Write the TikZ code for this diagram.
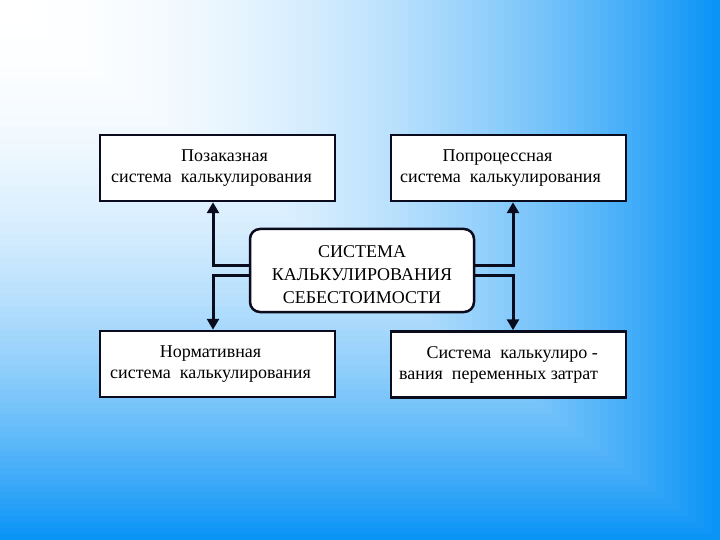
\documentclass[tikz,border=0pt]{standalone}
\usepackage{fontspec}
\setmainfont{Liberation Serif}
\usetikzlibrary{arrows.meta,calc}
\definecolor{edgeblue}{RGB}{10,148,246}
\definecolor{boxline}{RGB}{10,12,30}
\tikzset{
  box/.style={draw=boxline, line width=2.5pt, fill=white, minimum width=235pt, minimum height=66pt, inner sep=0pt, align=center, font=\fontsize{18}{21}\selectfont},
  centerbox/.style={draw=boxline, line width=2.5pt, fill=white, rounded corners=10pt, minimum width=224pt, minimum height=83pt, inner sep=0pt, align=center, font=\fontsize{18}{23}\selectfont},
  conn/.style={draw=boxline, line width=3pt, -{Triangle[width=12pt,length=11pt]}}
}
\begin{document}
\begin{tikzpicture}[x=1pt,y=-1pt]
\useasboundingbox (0,0) rectangle (720,540);
\foreach \i in {90,89,...,1} {
  \pgfmathsetmacro\t{\i/90}
  \pgfmathsetmacro\p{100*\t^2.1}
  \fill[edgeblue!\p!white] (0,0) rectangle ({720*\t},{540*\t});
}
\node[box] (tl) at (217.5,168) {\hspace*{14pt}Позаказная\\система\ \ калькулирования\hspace*{12pt}};
\node[box] (tr) at (508.5,168) {Попроцессная\hspace*{22pt}\\система\ \ калькулирования\hspace*{16pt}};
\node[box] (bl) at (217.5,364) {Нормативная\hspace*{14pt}\\система\ \ калькулирования\hspace*{14pt}};
\node[box, align=right] (br) at (508.5,364.5) {Система\ \ калькулиро -\hspace*{20pt}\\вания\ \ переменных затрат\hspace*{20pt}};
\node[centerbox] (c) at (362,270.5) {\rule{0pt}{20pt}СИСТЕМА\\КАЛЬКУЛИРОВАНИЯ\\СЕБЕСТОИМОСТИ};
\draw[conn] ([yshift=5pt]c.west) -| ([xshift=-4.5pt]tl.south);
\draw[conn] ([yshift=-5pt]c.west) -| ([xshift=-4.5pt]bl.north);
\draw[conn] ([yshift=5pt]c.east) -| ([xshift=4.5pt]tr.south);
\draw[conn] ([yshift=-5pt]c.east) -| ([xshift=4.5pt]br.north);
\end{tikzpicture}
\end{document}
